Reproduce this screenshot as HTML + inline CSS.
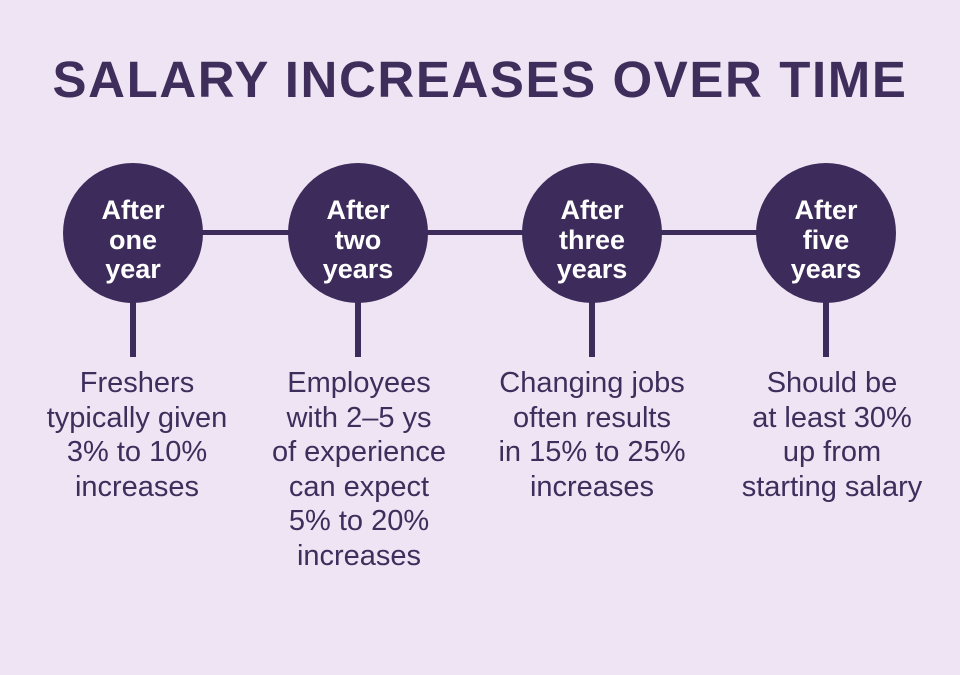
<!DOCTYPE html>
<html><head><meta charset="utf-8"><style>
body{margin:0;width:960px;height:675px;background:#efe4f3;font-family:"Liberation Sans",sans-serif;overflow:hidden;position:relative}
.t{position:absolute;left:0;width:960px;top:50px;text-align:center;font-weight:bold;font-size:51px;color:#3f2d5c;letter-spacing:1.6px}
.c{position:absolute;width:140px;height:140px;border-radius:50%;background:#3d2b5b;top:163px;color:#fff;font-weight:bold;font-size:27px;line-height:29.5px;text-align:center;box-sizing:border-box;padding-top:33px}
.s{position:absolute;width:6px;background:#3d2b5b;top:300px;height:57px}
.h{position:absolute;height:5px;background:#3d2b5b;top:230px}
.d{position:absolute;top:366px;width:280px;text-align:center;font-size:29px;line-height:34.5px;color:#3f2d5c}
</style></head><body>
<div class="t">SALARY INCREASES OVER TIME</div>
<div class="h" style="left:200px;width:630px"></div>
<div class="c" style="left:63px">After<br>one<br>year</div>
<div class="c" style="left:288px">After<br>two<br>years</div>
<div class="c" style="left:522px">After<br>three<br>years</div>
<div class="c" style="left:756px">After<br>five<br>years</div>
<div class="s" style="left:130px"></div>
<div class="s" style="left:355px"></div>
<div class="s" style="left:589px"></div>
<div class="s" style="left:823px"></div>
<div class="d" style="left:-3px">Freshers<br>typically given<br>3% to 10%<br>increases</div>
<div class="d" style="left:219px">Employees<br>with 2–5 ys<br>of experience<br>can expect<br>5% to 20%<br>increases</div>
<div class="d" style="left:452px">Changing jobs<br>often results<br>in 15% to 25%<br>increases</div>
<div class="d" style="left:692px">Should be<br>at least 30%<br>up from<br>starting salary</div>
</body></html>
